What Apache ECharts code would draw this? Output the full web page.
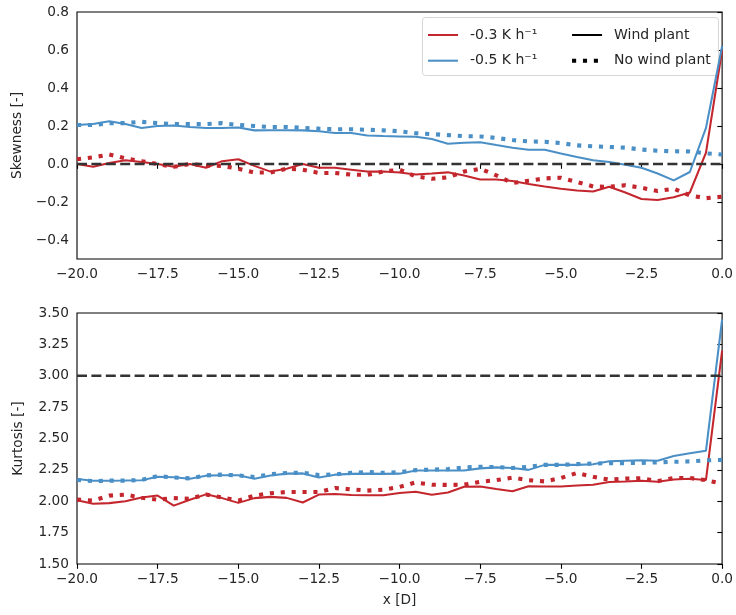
<!DOCTYPE html>
<html>
<head>
<meta charset="utf-8">
<script src="https://cdn.jsdelivr.net/npm/echarts@6/dist/echarts.min.js"></script>
<style>html,body{margin:0;padding:0;background:#fff;}#c{width:736px;height:615px;}</style>
</head>
<body>
<div id="c"></div>
<script>
const xPos = [-20,-19.5,-19,-18.5,-18,-17.5,-17,-16.5,-16,-15.5,-15,-14.5,-14,-13.5,-13,-12.5,-12,-11.5,-11,-10.5,-10,
  -9.5,-9,-8.5,-8,-7.5,-7,-6.5,-6,-5.5,-5,-4.5,-4,-3.5,-3,-2.5,-2,-1.5,-1,-0.5,0];

const skewWP03 = [0.0,-0.014,0.005,0.02,0.01,0.0,-0.015,0.0,-0.02,0.015,0.025,-0.01,-0.04,-0.025,0.0,-0.02,-0.02,-0.03,-0.04,-0.04,-0.045,
  -0.055,-0.05,-0.044,-0.06,-0.082,-0.082,-0.09,-0.105,-0.118,-0.13,-0.14,-0.145,-0.12,-0.15,-0.184,-0.19,-0.175,-0.15,0.06,0.6];
const skewNWP03 = [0.025,0.035,0.05,0.03,0.015,0.0,-0.015,0.0,-0.008,-0.01,-0.025,-0.045,-0.045,-0.025,-0.03,-0.047,-0.047,-0.056,-0.057,-0.04,-0.03,
  -0.065,-0.078,-0.07,-0.04,-0.025,-0.06,-0.10,-0.088,-0.076,-0.072,-0.095,-0.118,-0.12,-0.112,-0.125,-0.142,-0.13,-0.165,-0.18,-0.172];
const skewWP05 = [0.205,0.21,0.225,0.21,0.19,0.2,0.203,0.195,0.19,0.19,0.192,0.177,0.178,0.178,0.177,0.172,0.163,0.163,0.15,0.147,0.145,
  0.143,0.132,0.107,0.112,0.115,0.1,0.086,0.075,0.075,0.055,0.037,0.02,0.01,-0.004,-0.02,-0.05,-0.086,-0.042,0.19,0.62];
const skewNWP05 = [0.205,0.205,0.215,0.215,0.222,0.215,0.21,0.21,0.21,0.215,0.205,0.2,0.195,0.195,0.19,0.186,0.183,0.183,0.18,0.177,0.172,
  0.162,0.157,0.152,0.147,0.145,0.137,0.126,0.119,0.117,0.11,0.098,0.093,0.09,0.086,0.076,0.07,0.067,0.066,0.056,0.05];

const kurtWP03 = [2.008,1.98,1.985,2.0,2.03,2.045,1.965,2.012,2.055,2.025,1.987,2.025,2.035,2.027,1.99,2.053,2.058,2.05,2.048,2.048,2.066,
  2.075,2.052,2.07,2.115,2.118,2.098,2.08,2.12,2.118,2.118,2.125,2.132,2.153,2.157,2.163,2.155,2.173,2.18,2.17,3.2];
const kurtNWP03 = [2.013,2.005,2.045,2.053,2.028,2.013,2.025,2.02,2.053,2.03,2.005,2.045,2.064,2.074,2.074,2.074,2.105,2.095,2.085,2.092,2.114,
  2.15,2.132,2.13,2.132,2.155,2.168,2.188,2.168,2.158,2.185,2.225,2.195,2.172,2.18,2.183,2.16,2.185,2.185,2.168,2.14];
const kurtWP05 = [2.178,2.164,2.164,2.165,2.168,2.195,2.192,2.18,2.204,2.207,2.207,2.18,2.205,2.22,2.222,2.19,2.212,2.218,2.22,2.218,2.22,
  2.245,2.245,2.245,2.245,2.262,2.27,2.265,2.25,2.29,2.29,2.29,2.295,2.318,2.323,2.326,2.323,2.36,2.382,2.403,3.45];
const kurtNWP05 = [2.17,2.16,2.164,2.164,2.17,2.2,2.19,2.182,2.206,2.212,2.206,2.193,2.215,2.225,2.227,2.208,2.214,2.226,2.233,2.226,2.232,
  2.248,2.252,2.256,2.27,2.275,2.272,2.265,2.275,2.29,2.29,2.296,2.3,2.304,2.304,2.306,2.31,2.314,2.318,2.326,2.33];

const skewRef = 0.0;
const kurtRef = 3.0;
const xRange = [-20, 0];
const xTicks = [-20,-17.5,-15,-12.5,-10,-7.5,-5,-2.5,0];
const skewTicks = [-0.4,-0.2,0.0,0.2,0.4,0.6,0.8];
const kurtTicks = [1.5,1.75,2.0,2.25,2.5,2.75,3.0,3.25,3.5];

const nameRed = '-0.3 K h\u207B\u00B9';
const nameBlue = '-0.5 K h\u207B\u00B9';
const nameWP = 'Wind plant';
const nameNWP = 'No wind plant';

const RED = '#c4262e', BLUE = '#4a8fc6', TXT = '#262626';
const FONT = 'DejaVu Sans';
const pair = (ys) => xPos.map((x, i) => [x, ys[i]]);
const minus = (s) => s.replace('-', '\u2212');

const solid = { width: 2.05, type: 'solid', cap: 'butt' };
const dotted = { width: 4.1, type: [4.1, 6.8], cap: 'butt' };

function lineSeries(name, data, color, style, idx, z) {
  return {
    name, type: 'line', xAxisIndex: idx, yAxisIndex: idx, data: pair(data),
    symbol: 'none', showSymbol: false, color, animation: false, z,
    lineStyle: Object.assign({ color }, style), emphasis: { disabled: true }
  };
}
function refSeries(v, idx) {
  return {
    name: 'ref' + idx, type: 'line', xAxisIndex: idx, yAxisIndex: idx,
    data: xRange.map(x => [x, v]), symbol: 'none', animation: false, z: 5,
    lineStyle: { color: '#333', width: 2.7, type: [10, 4.4], cap: 'butt' },
    emphasis: { disabled: true }
  };
}

const axisCommon = {
  axisLine: { show: false },
  axisTick: { show: true, length: 4.8, lineStyle: { color: '#000', width: 1.1 } },
  splitLine: { show: false },
  axisLabel: { color: TXT, fontFamily: FONT, fontSize: 13.7, margin: 8 }
};

function xAxis(idx) {
  return Object.assign({}, axisCommon, {
    type: 'value', gridIndex: idx, min: xRange[0], max: xRange[1], interval: 2.5,
    axisTick: Object.assign({}, axisCommon.axisTick, { customValues: xTicks }),
    axisLabel: Object.assign({}, axisCommon.axisLabel, { customValues: xTicks, formatter: v => minus(v.toFixed(1)) }),
    name: idx === 1 ? 'x [D]' : '', nameLocation: 'middle', nameGap: 29,
    nameTextStyle: { color: TXT, fontFamily: FONT, fontSize: 13.7 }
  });
}

const legendCommon = {
  orient: 'vertical', padding: 0, itemGap: 11.7, top: 28,
  itemWidth: 30, itemHeight: 14, selectedMode: false,
  itemStyle: { opacity: 0 },
  textStyle: { color: TXT, fontFamily: FONT, fontSize: 14, padding: [0, 0, 0, 7] }
};

const option = {
  backgroundColor: '#fff',
  animation: false,
  grid: [
    { left: 77, top: 12, width: 648, height: 247, show: true, borderColor: '#000', borderWidth: 1.1, backgroundColor: 'transparent' },
    { left: 77, top: 313, width: 648, height: 251, show: true, borderColor: '#000', borderWidth: 1.1, backgroundColor: 'transparent' }
  ],
  xAxis: [xAxis(0), xAxis(1)],
  yAxis: [
    Object.assign({}, axisCommon, {
      type: 'value', gridIndex: 0, min: -0.5, max: 0.8,
      axisTick: Object.assign({}, axisCommon.axisTick, { customValues: skewTicks }),
      axisLabel: Object.assign({}, axisCommon.axisLabel, { customValues: skewTicks, formatter: v => minus(v.toFixed(1)) }),
      name: 'Skewness [-]', nameLocation: 'middle', nameGap: 52,
      nameTextStyle: { color: TXT, fontFamily: FONT, fontSize: 13.7 }
    }),
    Object.assign({}, axisCommon, {
      type: 'value', gridIndex: 1, min: 1.5, max: 3.5, interval: 0.25,
      axisTick: Object.assign({}, axisCommon.axisTick, { customValues: kurtTicks }),
      axisLabel: Object.assign({}, axisCommon.axisLabel, { customValues: kurtTicks, formatter: v => minus(v.toFixed(2)) }),
      name: 'Kurtosis [-]', nameLocation: 'middle', nameGap: 52,
      nameTextStyle: { color: TXT, fontFamily: FONT, fontSize: 13.7 }
    })
  ],
  legend: [
    Object.assign({}, legendCommon, {
      left: 427,
      data: [
        { name: nameRed, lineStyle: Object.assign({ color: RED }, solid) },
        { name: nameBlue, lineStyle: Object.assign({ color: BLUE }, solid) }
      ]
    }),
    Object.assign({}, legendCommon, {
      left: 570,
      data: [
        { name: nameWP, lineStyle: Object.assign({ color: '#000' }, solid) },
        { name: nameNWP, lineStyle: Object.assign({ color: '#000' }, dotted) }
      ]
    })
  ],
  graphic: [
    { type: 'rect', left: 422, top: 17, shape: { width: 296, height: 58, r: 3 },
      style: { fill: 'rgba(255,255,255,0.8)', stroke: '#d6d6d6', lineWidth: 1 }, z: 1 }
  ],
  series: [
    lineSeries(nameRed, skewWP03, RED, solid, 0, 2),
    lineSeries(nameBlue, skewWP05, BLUE, solid, 0, 2),
    lineSeries('r03nwp_s', skewNWP03, RED, dotted, 0, 3),
    lineSeries('r05nwp_s', skewNWP05, BLUE, dotted, 0, 3),
    lineSeries('r03wp_k', kurtWP03, RED, solid, 1, 2),
    lineSeries('r05wp_k', kurtWP05, BLUE, solid, 1, 2),
    lineSeries('r03nwp_k', kurtNWP03, RED, dotted, 1, 3),
    lineSeries('r05nwp_k', kurtNWP05, BLUE, dotted, 1, 3),
    refSeries(skewRef, 0),
    refSeries(kurtRef, 1),
    { name: nameWP, type: 'line', data: [], symbol: 'none', color: '#000', lineStyle: Object.assign({ color: '#000' }, solid) },
    { name: nameNWP, type: 'line', data: [], symbol: 'none', color: '#000', lineStyle: Object.assign({ color: '#000' }, dotted) }
  ]
};

const chart = echarts.init(document.getElementById('c'), null, { renderer: 'canvas' });
chart.setOption(option);
</script>
</body>
</html>
